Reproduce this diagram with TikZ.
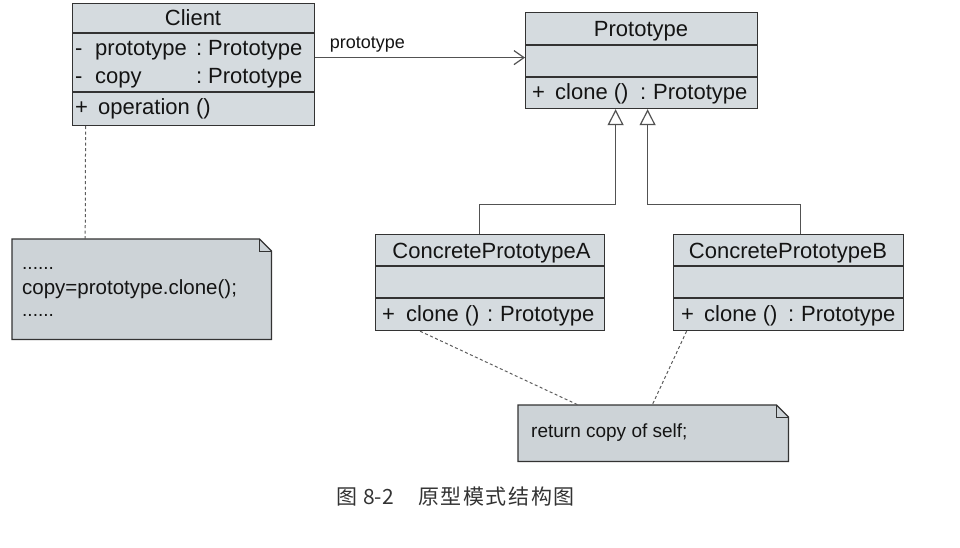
\documentclass[tikz,border=0pt]{standalone}
\usepackage{fontspec}
\setmainfont{Liberation Sans}
\newfontfamily\cjk{Noto Sans CJK SC}
\usetikzlibrary{arrows.meta}
\definecolor{boxfill}{HTML}{D5DBDF}
\definecolor{notefill}{HTML}{CDD3D7}
\definecolor{edge}{HTML}{333333}
\begin{document}
\begin{tikzpicture}[x=1pt,y=-1pt,
  umlbox/.style={draw=edge, fill=boxfill, line width=1.2pt, rectangle, anchor=north west, inner sep=0pt},
  sepline/.style={draw=edge, line width=1.1pt},
  txt/.style={font=\fontsize{22}{26}\selectfont, inner sep=0pt, text=black!92, anchor=base west},
  htxt/.style={font=\fontsize{22}{26}\selectfont, inner sep=0pt, text=black!92, anchor=base},
  notetxt/.style={font=\fontsize{19}{23}\selectfont, inner sep=0pt, text=black!92, anchor=base west},
  notebox/.style={rectangle, inner sep=0pt, anchor=north west},
  notepath/.style={draw=edge, fill=notefill, line width=1.2pt},
  foldline/.style={draw=edge, line width=0.8pt},
  gen/.style={draw=edge!85, line width=1.2pt, -{Triangle[open,length=16pt,width=16pt]}},
  assoc/.style={draw=edge!85, line width=1.2pt, -{Straight Barb[length=10pt,width=14pt]}},
  anchorline/.style={draw=edge!80, line width=1pt, dash pattern=on 3pt off 2.5pt},
  lbl/.style={font=\fontsize{18}{21}\selectfont, inner sep=0pt, text=black!92},
  captxt/.style={font=\cjk\fontsize{21}{25}\selectfont, text=black!80, anchor=west, inner sep=0pt}
]
\useasboundingbox (0,0) rectangle (960,548);

% ---- Client
\node[umlbox, minimum width=242pt, minimum height=122pt] (client) at (72,3) {};
\draw[sepline] ([yshift=-30pt]client.north west) -- ([yshift=-30pt]client.north east);
\draw[sepline] ([yshift=-89pt]client.north west) -- ([yshift=-89pt]client.north east);
\node[htxt] (clientname) at (193,26) {Client};
\node[txt] (a1m) at (75,56) {-};
\node[txt] (a1) at (95,56) {prototype};
\node[txt] (a1c) at (196,56) {:};
\node[txt] (a1t) at (208,56) {Prototype};
\node[txt] (a2m) at (75,84) {-};
\node[txt] (a2) at (95,84) {copy};
\node[txt] (a2c) at (196,84) {:};
\node[txt] (a2t) at (208,84) {Prototype};
\node[txt] (o1p) at (75,115) {+};
\node[txt] (o1) at (98,115) {operation ()};

% ---- Prototype
\node[umlbox, minimum width=232pt, minimum height=96pt] (proto) at (525,12) {};
\draw[sepline] ([yshift=-33pt]proto.north west) -- ([yshift=-33pt]proto.north east);
\draw[sepline] ([yshift=-65pt]proto.north west) -- ([yshift=-65pt]proto.north east);
\node[htxt] (protoname) at (641,37) {Prototype};
\node[txt] (pop) at (532,100) {+};
\node[txt] (po) at (555,100) {clone ()};
\node[txt] (poc) at (640,100) {:};
\node[txt] (pot) at (653,100) {Prototype};

% ---- ConcretePrototypeA
\node[umlbox, minimum width=229pt, minimum height=96pt] (ca) at (375,234) {};
\draw[sepline] ([yshift=-32pt]ca.north west) -- ([yshift=-32pt]ca.north east);
\draw[sepline] ([yshift=-64pt]ca.north west) -- ([yshift=-64pt]ca.north east);
\node[htxt] (caname) at (491.5,258) {ConcretePrototypeA};
\node[txt] (caop) at (382,321) {+};
\node[txt] (cao) at (406,321) {clone ()};
\node[txt] (caoc) at (487,321) {:};
\node[txt] (caot) at (500,321) {Prototype};

% ---- ConcretePrototypeB
\node[umlbox, minimum width=230pt, minimum height=96pt] (cb) at (673,234) {};
\draw[sepline] ([yshift=-32pt]cb.north west) -- ([yshift=-32pt]cb.north east);
\draw[sepline] ([yshift=-64pt]cb.north west) -- ([yshift=-64pt]cb.north east);
\node[htxt] (cbname) at (788,258) {ConcretePrototypeB};
\node[txt] (cbop) at (681,321) {+};
\node[txt] (cbo) at (704,321) {clone ()};
\node[txt] (cboc) at (788,321) {:};
\node[txt] (cbot) at (801,321) {Prototype};

% ---- Notes
\node[notebox, minimum width=259pt, minimum height=100pt] (note1) at (12,239) {};
\draw[notepath] (note1.north west) -- ([xshift=-12pt]note1.north east) -- ([yshift=-12pt]note1.north east) -- (note1.south east) -- (note1.south west) -- cycle;
\draw[foldline] ([xshift=-12pt]note1.north east) -- ([xshift=-12pt,yshift=-12pt]note1.north east) -- ([yshift=-12pt]note1.north east);
\node[notetxt] (n1a) at (22,269) {......};
\node[notetxt, font=\fontsize{20.5}{24}\selectfont] (n1b) at (22,294) {copy=prototype.clone();};
\node[notetxt] (n1c) at (22,316) {......};

\node[notebox, minimum width=270pt, minimum height=56pt] (note2) at (518,405) {};
\draw[notepath] (note2.north west) -- ([xshift=-12pt]note2.north east) -- ([yshift=-12pt]note2.north east) -- (note2.south east) -- (note2.south west) -- cycle;
\draw[foldline] ([xshift=-12pt]note2.north east) -- ([xshift=-12pt,yshift=-12pt]note2.north east) -- ([yshift=-12pt]note2.north east);
\node[notetxt] (n2a) at (531,437) {return copy of self;};

% ---- Connectors
\draw[assoc] ([yshift=7pt]client.east) -- node[lbl, pos=0.249, anchor=base, yshift=9pt] (assoclbl) {prototype} ([yshift=3pt]proto.west);
\draw[gen] ([xshift=-10.5pt]ca.north) |- ([xshift=-26pt,yshift=-95pt]proto.south) -- ([xshift=-26pt]proto.south);
\draw[gen] ([xshift=12pt]cb.north) |- ([xshift=6pt,yshift=-95pt]proto.south) -- ([xshift=6pt]proto.south);
\draw[anchorline] ([xshift=-108pt]client.south) -- ([xshift=-56.5pt]note1.north);
\draw[anchorline] ([xshift=-70pt]ca.south) -- ([xshift=-75pt]note2.north);
\draw[anchorline] ([xshift=-102pt]cb.south) -- ([xshift=-1pt]note2.north);

% ---- Caption
\node[captxt] (cap1) at (336,497) {图};
\node[captxt] (cap2) at (363,497) {8-2};
\node[captxt] (cap3) at (418,497) {原\kern1.6pt 型\kern1.6pt 模\kern1.6pt 式\kern1.6pt 结\kern1.6pt 构\kern1.6pt 图};
\end{tikzpicture}
\end{document}
